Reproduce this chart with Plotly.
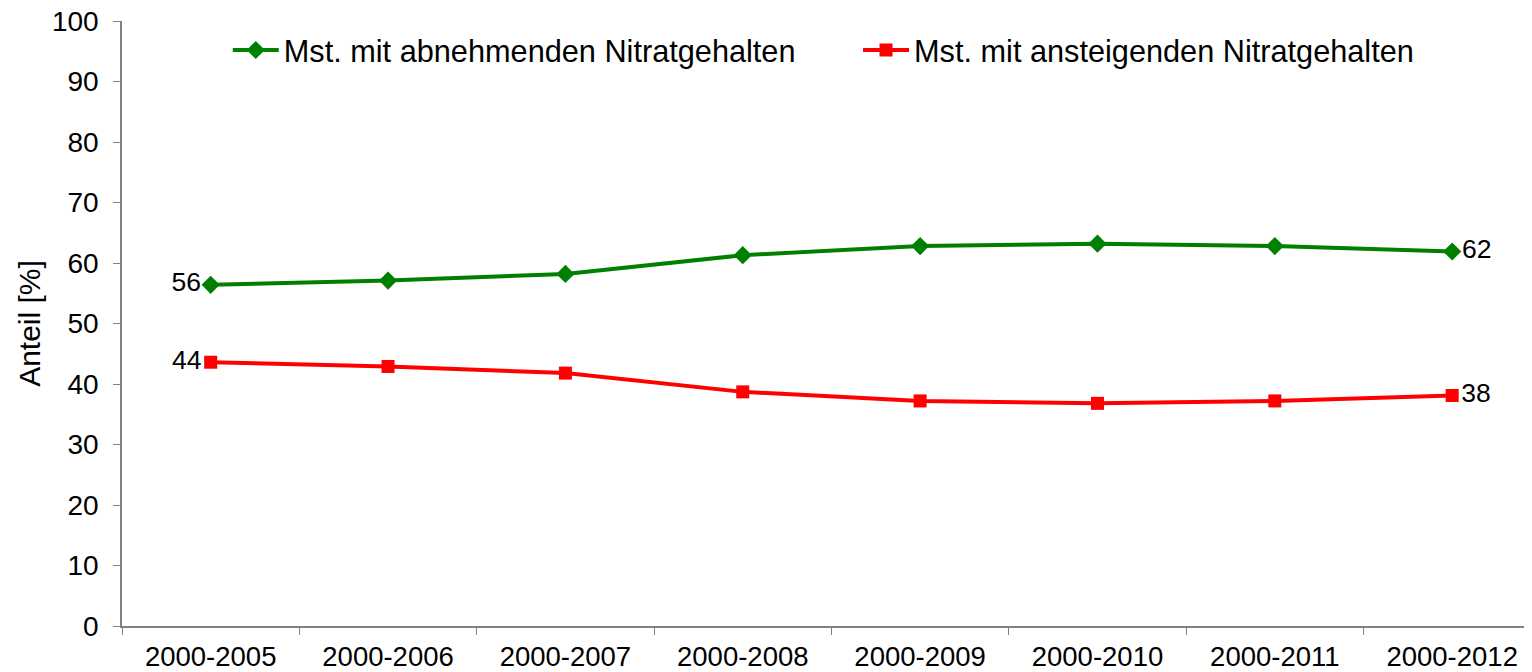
import plotly.graph_objects as go

categories = ["2000-2005", "2000-2006", "2000-2007", "2000-2008",
              "2000-2009", "2000-2010", "2000-2011", "2000-2012"]
abnehmend = [56.4, 57.1, 58.2, 61.3, 62.8, 63.2, 62.8, 61.9]
ansteigend = [43.6, 42.9, 41.8, 38.7, 37.2, 36.8, 37.2, 38.1]
label_abn = ["56", "", "", "", "", "", "", "62"]
label_ans = ["44", "", "", "", "", "", "", "38"]
yticks = [0, 10, 20, 30, 40, 50, 60, 70, 80, 90, 100]

FONT = "Liberation Sans, Arial, sans-serif"
pos = ["middle left"] + ["middle center"] * 6 + ["middle right"]

fig = go.Figure()
fig.add_trace(go.Scatter(
    x=categories, y=abnehmend, name="Mst. mit abnehmenden Nitratgehalten",
    mode="lines+markers+text", text=label_abn, textposition=pos,
    textfont=dict(size=26.5, color="black", family=FONT),
    line=dict(color="#008000", width=4),
    marker=dict(symbol="diamond", size=14, color="#008000"),
    legend="legend", showlegend=True,
))
fig.add_trace(go.Scatter(
    x=categories, y=ansteigend, name="Mst. mit ansteigenden Nitratgehalten",
    mode="lines+markers+text", text=label_ans, textposition=pos,
    textfont=dict(size=26.5, color="black", family=FONT),
    line=dict(color="#FF0000", width=4),
    marker=dict(symbol="square", size=13, color="#FF0000"),
    legend="legend2", showlegend=True,
))

leg_common = dict(orientation="h", yanchor="middle", xanchor="left", y=0.952,
                  font=dict(size=30.7, family=FONT, color="black"),
                  bgcolor="rgba(0,0,0,0)", itemwidth=46)

fig.update_layout(
    width=1524, height=664, showlegend=True,
    margin=dict(l=114, r=0, t=13, b=46, autoexpand=False),
    paper_bgcolor="white", plot_bgcolor="white",
    font=dict(family=FONT, color="black", size=28),
    legend=dict(x=0.075, **leg_common),
    legend2=dict(x=0.522, **leg_common),
    xaxis=dict(type="category", range=[-0.5, 7.45], showgrid=False, automargin=False,
               showline=True, linecolor="#808080", linewidth=1.5,
               ticks="outside", tickson="boundaries", ticklen=7, tickcolor="#808080",
               ticklabelstandoff=5, ticklabeloverflow="allow",
               tickfont=dict(size=27.5, family=FONT)),
    yaxis=dict(range=[0, 100], tickvals=yticks, showgrid=False, zeroline=False,
               automargin=False,
               showline=True, linecolor="#808080", linewidth=1.5,
               ticks="outside", ticklen=7, tickcolor="#808080", ticklabelstandoff=9,
               ticklabeloverflow="allow",
               tickfont=dict(size=28, family=FONT),
               title=dict(text="Anteil [%]", font=dict(size=30, family=FONT), standoff=2)),
)

fig.write_html("out.html")
